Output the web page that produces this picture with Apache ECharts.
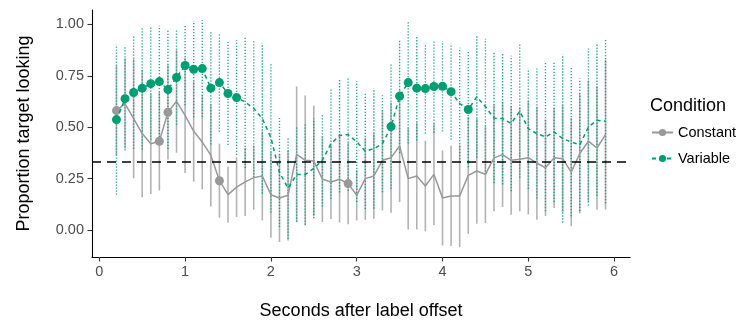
<!DOCTYPE html>
<html><head><meta charset="utf-8">
<script src="https://cdn.jsdelivr.net/npm/echarts@6/dist/echarts.min.js"></script>
<style>html,body{margin:0;padding:0;background:#fff}#c{width:739px;height:320px}</style>
</head><body><div id="c"></div>
<script>
const times = [0.2,0.3,0.4,0.5,0.6,0.7,0.8,0.9,
  1.0,1.1,1.2,1.3,1.4,1.5,1.6,1.7,1.8,1.9,
  2.0,2.1,2.2,2.3,2.4,2.5,2.6,2.7,2.8,2.9,
  3.0,3.1,3.2,3.3,3.4,3.5,3.6,3.7,3.8,3.9,
  4.0,4.1,4.2,4.3,4.4,4.5,4.6,4.7,4.8,4.9,
  5.0,5.1,5.2,5.3,5.4,5.5,5.6,5.7,5.8,5.9];

const constMean = [0.581,0.615,0.542,0.469,0.420,0.432,0.573,0.626,
  0.558,0.480,0.428,0.364,0.240,0.172,0.209,0.234,0.255,0.263,
  0.172,0.156,0.169,0.368,0.339,0.336,0.247,0.234,0.247,0.226,
  0.169,0.250,0.263,0.339,0.352,0.409,0.250,0.263,0.214,0.271,
  0.156,0.166,0.166,0.266,0.287,0.271,0.351,0.367,0.339,0.344,
  0.352,0.325,0.303,0.351,0.347,0.282,0.372,0.432,0.399,0.464];
const constCI = [0.22,0.22,0.29,0.31,0.245,0.24,0.23,0.25,
  0.28,0.245,0.23,0.25,0.18,0.136,0.145,0.166,0.156,0.216,
  0.21,0.214,0.22,0.33,0.316,0.268,0.208,0.18,0.21,0.198,
  0.122,0.2,0.208,0.243,0.268,0.273,0.247,0.26,0.22,0.248,
  0.231,0.244,0.249,0.284,0.256,0.237,0.26,0.255,0.264,0.253,
  0.276,0.275,0.235,0.244,0.26,0.263,0.292,0.296,0.3,0.364];
const constSigTimes = [0.2,0.7,0.8,1.4,2.9];

const varMean = [0.537,0.639,0.669,0.690,0.712,0.722,0.683,0.742,
  0.800,0.782,0.785,0.690,0.717,0.664,0.644,0.623,0.591,0.542,
  0.450,0.280,0.204,0.270,0.270,0.300,0.340,0.420,0.460,0.464,
  0.430,0.383,0.396,0.420,0.503,0.651,0.717,0.690,0.688,0.698,
  0.699,0.673,0.615,0.586,0.648,0.600,0.545,0.542,0.518,0.578,
  0.493,0.469,0.453,0.477,0.445,0.428,0.415,0.501,0.534,0.529];
const varCI = [0.365,0.252,0.274,0.298,0.273,0.271,0.289,0.23,
  0.193,0.234,0.235,0.274,0.239,0.251,0.279,0.321,0.336,0.365,
  0.365,0.265,0.246,0.23,0.244,0.242,0.226,0.268,0.277,0.273,
  0.294,0.281,0.292,0.236,0.302,0.277,0.296,0.254,0.219,0.225,
  0.22,0.234,0.271,0.281,0.296,0.33,0.317,0.32,0.329,0.324,
  0.292,0.316,0.362,0.341,0.409,0.361,0.322,0.382,0.368,0.399];
const varSigTimes = [0.2,0.3,0.4,0.5,0.6,0.7,0.8,0.9,1.0,1.1,1.2,1.3,1.4,1.5,1.6,
  3.4,3.5,3.6,3.7,3.8,3.9,4.0,4.1,4.3];

const chanceLevel = 1/3;
const xTicks = [0,1,2,3,4,5,6];
const yTicks = [0,0.25,0.5,0.75,1];
const yTickLabels = ['0.00','0.25','0.50','0.75','1.00'];

const GREY = '#999999', GREEN = '#009E73';
const FONT = '"Liberation Sans", Arial, sans-serif';

function isSig(list, t){ return list.some(s => Math.abs(s - t) < 1e-6); }
const constLine = times.map((t,i) => [t, constMean[i]]);
const varLine = times.map((t,i) => [t, varMean[i]]);
const constErr = times.map((t,i) => [t, constMean[i]-constCI[i], constMean[i]+constCI[i]]);
const varErr = times.map((t,i) => [t, varMean[i]-varCI[i], varMean[i]+varCI[i]]);

function errRender(color, dash, width, opacity){
  return function(params, api){
    const x = api.value(0);
    const p1 = api.coord([x, api.value(1)]);
    const p2 = api.coord([x, api.value(2)]);
    return {type:'line', shape:{x1:p1[0],y1:p1[1],x2:p2[0],y2:p2[1]},
      style:{stroke:color, lineWidth:width, lineDash:dash, opacity:opacity}};
  };
}

const chart = echarts.init(document.getElementById('c'), null, {renderer:'canvas'});
chart.setOption({
  animation:false,
  textStyle:{fontFamily:FONT},
  grid:{left:92, right:109, top:10, bottom:63, containLabel:false, outerBoundsMode:'none'},
  title:{text:'Condition', left:645, top:92, textStyle:{fontSize:18, fontWeight:'normal', color:'#000', fontFamily:FONT}},
  legend:{orient:'vertical', left:646, top:120, itemWidth:21, itemHeight:9, itemGap:11,
    data:['Constant','Variable'], textStyle:{fontSize:14.5, color:'#000', fontFamily:FONT}},
  xAxis:{type:'value', min:-0.085, max:6.185,
    axisLine:{show:true, onZero:false, lineStyle:{color:'#000', width:1.1}},
    axisTick:{show:true, length:4.5, lineStyle:{color:'#333', width:1.1}, customValues:xTicks},
    axisLabel:{customValues:xTicks, color:'#4d4d4d', fontSize:14.5, margin:7, fontFamily:FONT},
    splitLine:{show:false},
    name:'Seconds after label offset', nameLocation:'middle', nameGap:45,
    nameTextStyle:{fontSize:18, color:'#000', fontFamily:FONT}},
  yAxis:{type:'value', min:-0.131, max:1.07,
    axisLine:{show:true, onZero:false, lineStyle:{color:'#000', width:1.1}},
    axisTick:{show:true, length:4.5, lineStyle:{color:'#333', width:1.1}, customValues:yTicks},
    axisLabel:{customValues:yTicks, color:'#4d4d4d', fontSize:14.5, margin:8, fontFamily:FONT,
      formatter:v => { const k = yTicks.findIndex(t => Math.abs(t-v)<1e-9); return k>=0 ? yTickLabels[k] : ''; }},
    splitLine:{show:false},
    name:'Proportion target looking', nameLocation:'middle', nameGap:59, nameRotate:90,
    nameTextStyle:{fontSize:18, color:'#000', fontFamily:FONT}},
  series:[
    {name:'constErr', type:'custom', renderItem:errRender(GREY, null, 1.6, 0.75),
      encode:{x:0, y:[1,2]}, data:constErr, z:2, silent:true},
    {name:'varErr', type:'custom', renderItem:errRender(GREEN, [1.3,1.7], 1.4, 0.85),
      encode:{x:0, y:[1,2]}, data:varErr, z:2, silent:true,
      markLine:{silent:true, symbol:'none', label:{show:false},
        lineStyle:{color:'#000', type:[9,6], width:1.5}, data:[{yAxis:chanceLevel}]}},
    {name:'Constant', type:'line', data:constLine, z:3,
      lineStyle:{color:GREY, width:1.5}, itemStyle:{color:GREY},
      symbol:'circle', showSymbol:true, showAllSymbol:true,
      symbolSize:(v) => isSig(constSigTimes, v[0]) ? 9 : 0},
    {name:'Variable', type:'line', data:varLine, z:4,
      lineStyle:{color:GREEN, width:1.5, type:[4,3.5]}, itemStyle:{color:GREEN},
      symbol:'circle', showSymbol:true, showAllSymbol:true,
      symbolSize:(v) => isSig(varSigTimes, v[0]) ? 9 : 0}
  ]
});
</script></body></html>
